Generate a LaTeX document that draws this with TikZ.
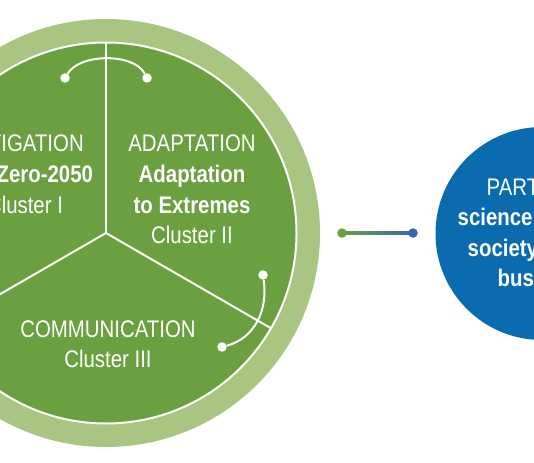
\documentclass[tikz,border=0pt]{standalone}
\usepackage{fontspec}
\setmainfont[FakeStretch=0.85]{Liberation Sans}
\usepackage{tikz}
\usetikzlibrary{positioning,calc}
\definecolor{ringgreen}{HTML}{A8C682}
\definecolor{leafgreen}{HTML}{6BA040}
\definecolor{partblue}{HTML}{0A6BAF}
\definecolor{dotblue}{HTML}{3A66B0}
\tikzset{
  disc/.style={circle,inner sep=0pt,outer sep=0pt},
  divider/.style={draw=white,line width=2pt},
  link/.style={draw=white,line width=2pt},
  knob/.style={circle,fill=white,inner sep=0pt,minimum size=9.5pt},
  caption/.style={text=white,anchor=base,inner sep=0pt,font=\fontsize{24}{30}\selectfont},
  heading/.style={caption,font=\fontsize{24}{30}\selectfont\bfseries}
}

\begin{document}
\begin{tikzpicture}[x=1pt,y=-1pt]
\useasboundingbox (0,0) rectangle (534,462);
\clip (0,0) rectangle (534,462);
% the wheel of clusters
\node[disc,fill=ringgreen,minimum size=428pt] (ring) at (106,233) {};
\node[disc,fill=leafgreen,draw=white,line width=2pt,minimum size=381pt] (wheel) at (106,233) {};
\draw[divider] (wheel.center) -- (wheel.90);
\draw[divider] (wheel.center) -- (wheel.210);
\draw[divider] (wheel.center) -- (wheel.330);
% links between clusters
\node[knob] (k1) at (65,78) {};
\node[knob] (k2) at (147,78) {};
\draw[link] (k1) .. controls (80,53) and (134,53) .. (k2);
\node[knob] (k3) at (263,275) {};
\node[knob] (k4) at (222,347) {};
\draw[link] (k3) .. controls (268,310) and (255,338) .. (k4);
% cluster texts
\node[caption] (mitA) at (25,152) {MITIGATION};
\node[heading] (mitB) at (25,182.5) {Net-Zero-2050};
\node[caption] (mitC) at (25,213) {Cluster I};
\node[caption] (adaA) at (192,152) {ADAPTATION};
\node[heading] (adaB) at (192,182.5) {Adaptation};
\node[heading] (adaC) at (192,213) {to Extremes};
\node[caption] (adaD) at (192,243.5) {Cluster II};
\node[caption] (comA) at (108,337) {COMMUNICATION};
\node[caption] (comB) at (108,367.5) {Cluster III};
% bridge to the partners
\coordinate (gdot) at (342,233);
\coordinate (bdot) at (413,233);
\shade[left color=leafgreen,right color=dotblue] ($(gdot)+(0,-1.2)$) rectangle ($(bdot)+(0,1.2)$);
\node[knob,fill=leafgreen] (gknob) at (gdot) {};
\node[knob,fill=dotblue] (bknob) at (bdot) {};
% partners
\node[disc,fill=partblue,minimum size=213pt] (partners) at (542,233.5) {};
\node[caption,anchor=base west] (parA) at (486.5,195) {PARTNERS};
\node[heading,anchor=base west] (parB) at (457.5,225.5) {science};
\node[heading,anchor=base west] (parC) at (467.5,256) {society};
\node[heading,anchor=base west] (parD) at (497.5,286.5) {business};
\end{tikzpicture}
\end{document}
